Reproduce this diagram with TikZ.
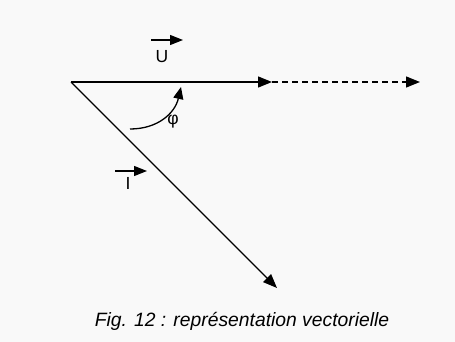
\documentclass[tikz,border=0pt]{standalone}
\usepackage{fontspec}
\setmainfont{Liberation Sans}
\usetikzlibrary{arrows.meta}
\begin{document}
\begin{tikzpicture}[x=1pt,y=-1pt,
  vec/.style={line width=1.3pt,-{Triangle[length=14pt,width=11pt]}},
  dvec/.style={vec,dash pattern=on 6pt off 4pt},
  lblarrow/.style={line width=1.3pt,-{Triangle[length=13pt,width=10pt]}},
  lbl/.style={inner sep=0pt,font=\fontsize{17.5}{20}\selectfont}]
\fill[fill={rgb,255:red,249;green,249;blue,249}] (0,0) rectangle (455,342);
\useasboundingbox (0,0) rectangle (455,342);
\coordinate (O) at (71,82);
\coordinate (A) at (272,82);
\coordinate (B) at (420,82);
\coordinate (C) at (277,288);
\draw[dvec] (A) -- (B);
\draw[vec] (O) -- (A);
\draw[vec] (O) -- (C);
\coordinate (p1) at (130,129);
\coordinate (p2) at (181,87);
\draw[line width=1.3pt,-{Triangle[length=12pt,width=10pt]}] (p1) .. controls (158,129) and (175,113) .. (p2);
\node[lbl] (u) at (162,57) {U};
\coordinate (ua) at (151,40);
\coordinate (ub) at (183,40);
\draw[lblarrow] (ua) -- (ub);
\node[lbl] (phi) at (173,122) {φ};
\node[lbl] (i) at (128,183) {I};
\coordinate (ia) at (115,171);
\coordinate (ib) at (147,171);
\draw[lblarrow] (ia) -- (ib);
\node[inner sep=0pt,font=\fontsize{19.3}{22}\selectfont\itshape] (cap) at (242,321) {Fig. 12 : représentation vectorielle};
\end{tikzpicture}
\end{document}
